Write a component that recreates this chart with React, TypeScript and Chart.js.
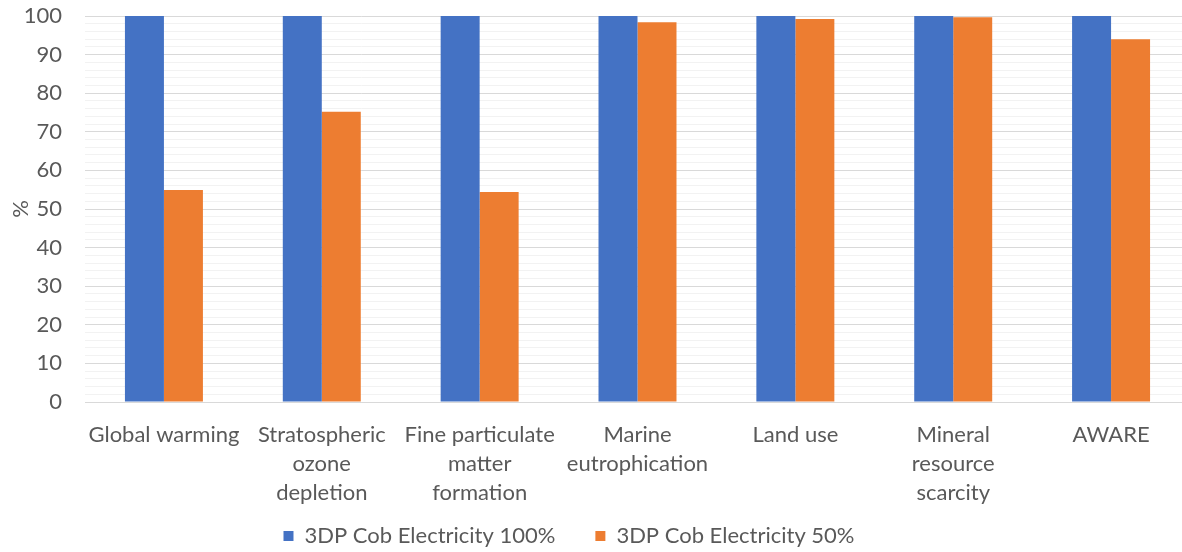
import React, { useEffect, useRef } from "react";
import { Chart, registerables } from "chart.js";

Chart.register(...registerables);

const categories: string[][] = [
  ["Global warming"],
  ["Stratospheric", "ozone", "depletion"],
  ["Fine particulate", "matter", "formation"],
  ["Marine", "eutrophication"],
  ["Land use"],
  ["Mineral", "resource", "scarcity"],
  ["AWARE"],
];
const series100 = [100, 100, 100, 100, 100, 100, 100];
const series50 = [54.9, 75.2, 54.4, 98.4, 99.2, 99.7, 94.0];
const seriesNames = ["3DP Cob Electricity 100%", "3DP Cob Electricity 50%"];
const yTitle = "%";

const FONT = "Lato, sans-serif";
const TEXT = "#595959";
const FS = 22;

const legendShift = {
  id: "legendShift",
  afterLayout(chart: any) {
    if (chart.legend) chart.legend.right -= 52;
  },
};

export default function App() {
  const ref = useRef<HTMLCanvasElement | null>(null);
  useEffect(() => {
    if (!ref.current) return;
    const chart = new Chart(ref.current, {
      type: "bar",
      data: {
        labels: categories,
        datasets: [
          { label: seriesNames[0], data: series100, backgroundColor: "#4472C4" },
          { label: seriesNames[1], data: series50, backgroundColor: "#ED7D31" },
        ],
      },
      plugins: [legendShift],
      options: {
        responsive: false,
        animation: false,
        layout: { padding: { left: 0, right: 0, top: 0, bottom: -5 } },
        datasets: { bar: { barPercentage: 1, categoryPercentage: 0.494 } },
        plugins: {
          tooltip: { enabled: false },
          legend: {
            position: "bottom",
            labels: {
              boxWidth: 10,
              boxHeight: 10,
              color: TEXT,
              font: { family: FONT, size: FS },
              padding: 40,
            },
          },
        },
        scales: {
          x: {
            grid: { display: false },
            border: { color: "#d9d9d9", width: 1 },
            ticks: {
              color: TEXT,
              font: { family: FONT, size: FS, lineHeight: 1.318 },
              maxRotation: 0,
              autoSkip: false,
              padding: 10,
            },
            afterFit: (scale: any) => {
              scale.height = 83;
              scale._computeLabelArea = () => undefined;
            },
          },
          y: {
            min: 0,
            max: 100,
            border: { display: false },
            grid: {
              drawTicks: false,
              color: (ctx: any) => (ctx.tick && ctx.tick.value % 10 === 0 ? "#d9d9d9" : "#f2f2f2"),
            },
            ticks: {
              stepSize: 2,
              autoSkip: false,
              padding: 23,
              color: TEXT,
              font: { family: FONT, size: FS },
              callback: (v: any) => (Number(v) % 10 === 0 ? String(v) : ""),
            },
            title: {
              display: true,
              text: yTitle,
              color: TEXT,
              font: { family: FONT, size: FS },
              padding: { top: 8, bottom: 0 },
            },
            afterFit: (scale: any) => {
              scale.width = 85;
              scale.paddingTop = 16;
            },
          },
        },
      },
    });
    return () => chart.destroy();
  }, []);
  return (
    <div style={{ position: "fixed", left: 0, top: 0, width: 1190, height: 552, background: "#fff" }}>
      <canvas ref={ref} width={1190} height={552} style={{ display: "block" }} />
    </div>
  );
}
